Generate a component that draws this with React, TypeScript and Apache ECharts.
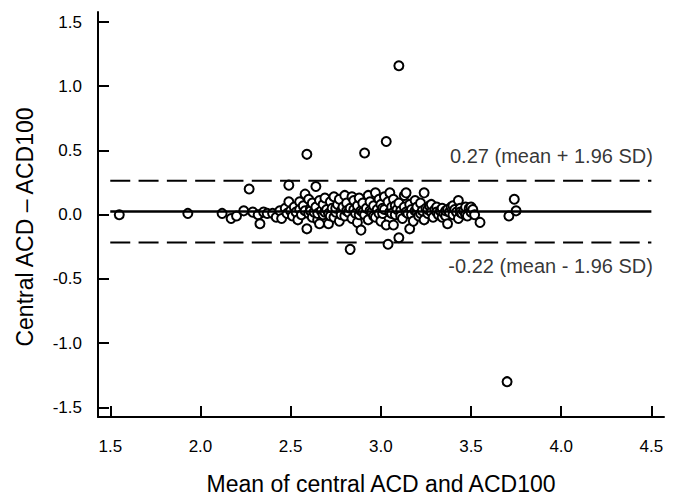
import React, { useEffect, useRef } from "react";
import * as echarts from "echarts";

// Axis ticks
const xTicks = [1.5, 2.0, 2.5, 3.0, 3.5, 4.0, 4.5];
const yTicks = [-1.5, -1.0, -0.5, 0.0, 0.5, 1.0, 1.5];

// Limits of agreement
const upperLoA = 0.265;
const meanDiff = 0.025;
const lowerLoA = -0.217;
const loaLabels = ["0.27 (mean + 1.96 SD)", "-0.22 (mean - 1.96 SD)"];
const lineSpan = [1.5, 4.5];

// [mean of the two measures, difference]
const lowMeanPoints: [number, number][] = [
  [1.55, 0.0], [1.93, 0.01], [2.12, 0.01], [2.17, -0.03], [2.2, -0.01],
  [2.24, 0.03], [2.27, 0.2], [2.29, 0.02], [2.32, 0.0], [2.33, -0.07],
  [2.35, 0.02], [2.37, 0.01], [2.4, 0.01], [2.42, -0.02], [2.44, 0.03],
  [2.45, -0.03], [2.47, 0.05], [2.48, 0.01], [2.49, 0.23], [2.49, 0.1],
];

const coreCluster: [number, number][] = [
  [2.5, 0.03], [2.51, -0.01], [2.52, 0.06], [2.53, 0.02], [2.54, -0.04],
  [2.55, 0.1], [2.55, 0.04], [2.56, 0.0], [2.57, 0.07], [2.58, 0.16],
  [2.58, 0.03], [2.59, -0.11], [2.6, 0.01], [2.6, 0.12], [2.61, 0.05],
  [2.61, 0.03], [2.62, -0.02], [2.62, 0.09], [2.63, 0.02], [2.64, 0.22],
  [2.64, 0.06], [2.65, -0.04], [2.65, 0.01], [2.66, -0.07], [2.66, 0.11],
  [2.67, 0.03], [2.68, 0.0], [2.68, 0.08], [2.69, 0.13], [2.69, 0.02],
  [2.7, 0.04], [2.71, -0.07], [2.71, 0.01], [2.72, 0.1], [2.72, -0.01],
  [2.73, 0.05], [2.74, 0.14], [2.74, -0.02], [2.75, 0.02], [2.75, 0.05],
  [2.76, 0.08], [2.77, -0.05], [2.77, 0.12], [2.78, 0.03], [2.78, 0.0],
  [2.79, 0.06], [2.8, -0.01], [2.8, 0.15], [2.81, 0.09], [2.81, 0.03],
  [2.82, 0.02], [2.83, 0.05], [2.84, 0.14], [2.84, -0.03], [2.85, 0.11],
  [2.85, 0.04], [2.86, 0.01], [2.87, -0.06], [2.87, 0.07], [2.88, 0.13],
  [2.88, 0.0], [2.89, 0.03], [2.89, -0.12], [2.9, 0.09], [2.9, 0.02],
  [2.91, 0.0], [2.92, 0.05], [2.93, 0.15], [2.93, -0.04], [2.94, 0.1],
  [2.94, 0.03], [2.95, 0.02], [2.96, 0.07], [2.96, -0.01], [2.97, 0.17],
  [2.97, -0.02], [2.98, 0.04], [2.99, 0.12], [2.99, 0.01], [3.0, -0.05],
  [3.0, 0.08], [3.01, 0.01], [3.01, 0.05], [3.02, 0.14], [3.02, 0.04],
  [3.03, -0.08], [3.04, 0.1], [3.05, 0.17], [3.05, 0.02], [3.06, 0.06],
  [3.06, 0.01], [3.07, -0.08], [3.07, 0.12], [3.08, 0.0], [3.08, 0.07],
  [3.09, 0.04], [3.1, 0.09], [3.11, 0.03], [3.11, -0.01], [3.12, -0.03],
  [3.13, 0.15], [3.13, 0.06], [3.14, 0.17], [3.14, 0.02], [3.15, 0.01],
  [3.16, -0.11], [3.16, 0.08], [3.17, 0.04], [3.17, 0.0], [3.18, -0.05],
  [3.19, 0.11], [3.19, 0.03], [3.2, 0.02], [3.2, 0.06], [3.21, -0.01],
  [3.22, 0.09], [3.22, 0.01], [3.23, 0.03], [3.24, 0.17], [3.24, -0.04],
  [3.25, 0.05], [3.26, 0.01], [3.26, 0.04], [3.27, 0.07], [3.28, 0.02],
  [3.28, 0.08], [3.29, -0.02], [3.3, 0.04], [3.31, 0.06], [3.31, 0.02],
  [3.32, 0.0], [3.33, 0.03], [3.34, 0.05], [3.34, -0.02], [3.35, 0.01],
  [3.36, -0.01], [3.36, 0.03], [3.37, -0.07], [3.37, 0.04], [3.38, 0.02],
  [3.39, 0.06], [3.4, 0.0], [3.4, 0.07], [3.41, 0.04], [3.42, 0.02],
  [3.43, 0.11], [3.43, -0.03], [3.44, 0.05], [3.44, 0.02], [3.45, 0.01],
  [3.46, 0.03], [3.47, 0.06], [3.47, 0.0], [3.48, -0.01], [3.49, 0.05],
  [3.5, 0.02], [3.5, 0.06], [3.51, 0.04], [3.52, 0.0], [3.55, -0.06],
];

const highMeanPoints: [number, number][] = [
  [3.71, -0.01], [3.74, 0.12], [3.75, 0.03],
];

const outlierPoints: [number, number][] = [
  [2.59, 0.47], [2.91, 0.48], [3.03, 0.57], [3.1, 1.16],
  [2.83, -0.27], [3.04, -0.23], [3.1, -0.18], [3.7, -1.3],
];

const FONT = "'Liberation Sans', Arial, Helvetica, sans-serif";

export default function App() {
  const ref = useRef<HTMLDivElement>(null);
  useEffect(() => {
    if (!ref.current) return;
    const chart = echarts.init(ref.current, undefined, { renderer: "svg" });
    const allPoints = [
      ...lowMeanPoints,
      ...coreCluster,
      ...highMeanPoints,
      ...outlierPoints,
    ];
    const hLine = (v: number, dashed: boolean, width: number) => ({
      type: "line",
      data: [
        [lineSpan[0], v],
        [lineSpan[1], v],
      ],
      symbol: "none",
      silent: true,
      z: 4,
      clip: false,
      lineStyle: {
        color: "#000",
        width,
        type: dashed ? [20, 8.3] : "solid",
      },
    });
    chart.setOption({
      animation: false,
      backgroundColor: "#fff",
      grid: {
        left: 98,
        right: 15,
        top: 12,
        bottom: 79,
        containLabel: false,
        outerBoundsMode: "none",
      },
      xAxis: {
        type: "value",
        min: 1.432,
        max: 4.57,
        name: "Mean of central ACD and ACD100",
        nameLocation: "middle",
        nameGap: 55,
        nameTextStyle: { fontFamily: FONT, fontSize: 23, color: "#000" },
        axisLine: { show: true, onZero: false, lineStyle: { color: "#000", width: 2 } },
        axisTick: {
          show: true,
          inside: true,
          length: 11,
          customValues: xTicks,
          lineStyle: { color: "#000", width: 2 },
        },
        axisLabel: {
          customValues: xTicks,
          formatter: (v: number) => v.toFixed(1),
          fontFamily: FONT,
          fontSize: 17,
          color: "#000",
          margin: 21,
        },
        splitLine: { show: false },
      },
      yAxis: {
        type: "value",
        min: -1.575,
        max: 1.578,
        name: "Central ACD \u2013 ACD100",
        nameLocation: "middle",
        nameGap: 62,
        nameTextStyle: {
          fontFamily: FONT,
          fontSize: 23,
          color: "#000",
          padding: [0, 25, 0, 0],
        },
        axisLine: { show: true, onZero: false, lineStyle: { color: "#000", width: 2 } },
        axisTick: {
          show: true,
          inside: true,
          length: 11,
          customValues: yTicks,
          lineStyle: { color: "#000", width: 2 },
        },
        axisLabel: {
          customValues: yTicks,
          formatter: (v: number) => v.toFixed(1),
          fontFamily: FONT,
          fontSize: 17,
          color: "#000",
          margin: 16,
        },
        splitLine: { show: false },
      },
      series: [
        {
          type: "scatter",
          data: allPoints,
          symbol: "circle",
          symbolSize: 9,
          z: 2,
          itemStyle: { color: "#fff", borderColor: "#000", borderWidth: 2, opacity: 1 },
          silent: true,
        },
        hLine(meanDiff, false, 2.5),
        hLine(upperLoA, true, 2),
        hLine(lowerLoA, true, 2),
        {
          type: "scatter",
          silent: true,
          symbolSize: 1,
          z: 5,
          itemStyle: { color: "transparent" },
          data: [
            {
              value: [lineSpan[1], upperLoA],
              label: {
                show: true,
                formatter: loaLabels[0],
                position: [2, -24],
                align: "right",
                verticalAlign: "middle",
              },
            },
            {
              value: [lineSpan[1], lowerLoA],
              label: {
                show: true,
                formatter: loaLabels[1],
                position: [2, 24],
                align: "right",
                verticalAlign: "middle",
              },
            },
          ],
          label: { fontFamily: FONT, fontSize: 20, color: "#000" },
        },
      ],
    });
    return () => chart.dispose();
  }, []);
  return (
    <div
      ref={ref}
      style={{ position: "fixed", left: 0, top: 0, width: 679, height: 496 }}
    />
  );
}
